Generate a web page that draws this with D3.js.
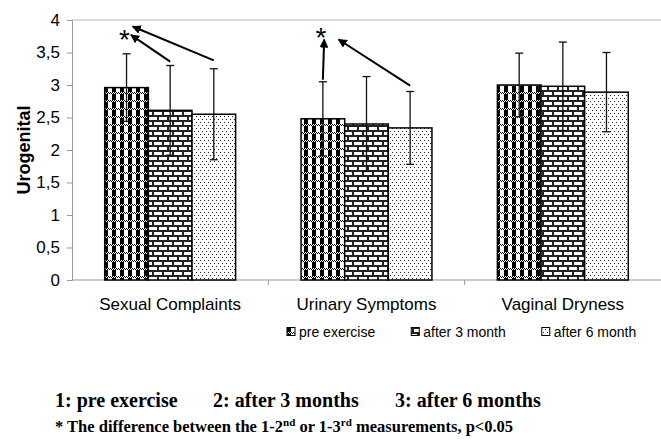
<!DOCTYPE html>
<html>
<head>
<meta charset="utf-8">
<script src="https://cdn.jsdelivr.net/npm/d3@7"></script>
<style>
  body { margin: 0; background: #fff; }
  svg { display: block; }
  text { font-family: Arial, "Liberation Sans", sans-serif; }
  .foot text { font-family: "Times New Roman", "Liberation Serif", serif; font-weight: bold; }
</style>
</head>
<body>
<div id="chart"></div>
<script>
// chart data
var categories = ["Sexual Complaints", "Urinary Symptoms", "Vaginal Dryness"];
var seriesNames = ["pre exercise", "after 3 month", "after 6 month"];
var preExercise = [2.96, 2.48, 3.00];
var after3Month = [2.61, 2.40, 2.98];
var after6Month = [2.55, 2.34, 2.89];
var preSd = [0.52, 0.57, 0.49];
var after3Sd = [0.69, 0.73, 0.68];
var after6Sd = [0.70, 0.56, 0.61];
var yTicks = [0, 0.5, 1, 1.5, 2, 2.5, 3, 3.5, 4];

// significance arrows (category index, from series/value, to series/value, shift in bar widths)
var arrows = [
  {cat: 0, fromSeries: 1, fromValue: 3.36, toSeries: 0, toValue: 3.77, shift: 0.1},
  {cat: 0, fromSeries: 2, fromValue: 3.38, toSeries: 0, toValue: 3.90, shift: 0.14},
  {cat: 1, fromSeries: 0, fromValue: 3.08, toSeries: 0, toValue: 3.70, shift: 0.03},
  {cat: 1, fromSeries: 2, fromValue: 2.99, toSeries: 0, toValue: 3.70, shift: 0.36}
];
var stars = [
  {cat: 0, series: 0, value: 3.82},
  {cat: 1, series: 0, value: 3.84}
];

var footLine1 = ["1: pre exercise", "2: after 3 months", "3: after 6 months"];

/*
 SETUP
*/
var W = 661, H = 442;
var margin = {top: 20, left: 72},
    plotW = 661 - margin.left,
    plotH = 260;

var svg = d3.select('#chart').append('svg')
    .attr('width', W)
    .attr('height', H);
svg.append('rect').attr('width', W).attr('height', H).attr('fill', '#fff');

var defs = svg.append('defs');

// pattern 1: black blocks with grey dither bands
var p1 = defs.append('pattern').attr('id', 'pat0')
    .attr('patternUnits', 'userSpaceOnUse')
    .attr('width', 8).attr('height', 8)
    .attr('shape-rendering', 'crispEdges');
p1.append('rect').attr('width', 8).attr('height', 8).attr('fill', '#fff');
p1.append('rect').attr('x', 0).attr('y', 2).attr('width', 4).attr('height', 6).attr('fill', '#000');
d3.range(8).forEach(function(i) {
  p1.append('rect').attr('x', i).attr('y', i % 2).attr('width', 1).attr('height', 1).attr('fill', '#000');
});

// pattern 2: horizontal bricks
var p2 = defs.append('pattern').attr('id', 'pat1')
    .attr('patternUnits', 'userSpaceOnUse')
    .attr('width', 10).attr('height', 10)
    .attr('shape-rendering', 'crispEdges');
p2.append('rect').attr('width', 10).attr('height', 10).attr('fill', '#fff');
p2.append('rect').attr('x', 0).attr('y', 0).attr('width', 10).attr('height', 1.5).attr('fill', '#222');
p2.append('rect').attr('x', 0).attr('y', 5).attr('width', 10).attr('height', 1.5).attr('fill', '#222');
p2.append('rect').attr('x', 0).attr('y', 0).attr('width', 1.5).attr('height', 5).attr('fill', '#222');
p2.append('rect').attr('x', 5).attr('y', 5).attr('width', 1.5).attr('height', 5).attr('fill', '#222');

// pattern 3: sparse dots
var p3 = defs.append('pattern').attr('id', 'pat2')
    .attr('patternUnits', 'userSpaceOnUse')
    .attr('width', 4).attr('height', 6)
    .attr('shape-rendering', 'crispEdges');
p3.append('rect').attr('width', 4).attr('height', 6).attr('fill', '#fff');
p3.append('rect').attr('x', 0).attr('y', 0).attr('width', 1).attr('height', 1).attr('fill', '#222');
p3.append('rect').attr('x', 2).attr('y', 3).attr('width', 1).attr('height', 1).attr('fill', '#222');

// arrow head
defs.append('marker').attr('id', 'head')
    .attr('viewBox', '0 0 10 10')
    .attr('refX', 9).attr('refY', 5)
    .attr('markerWidth', 4.5).attr('markerHeight', 4.5)
    .attr('markerUnits', 'strokeWidth')
    .attr('orient', 'auto')
  .append('path').attr('d', 'M0,0L10,5L0,10z').attr('fill', '#000');

var g = svg.append('g').attr('transform', 'translate(' + margin.left + ',' + margin.top + ')');

// scales
var x = d3.scaleBand().domain(categories).range([0, plotW]);
var groupW = x.bandwidth() * 3 / 4.5;
var xs = d3.scaleBand().domain(d3.range(3)).range([0, groupW]);
var groupOff = (x.bandwidth() - groupW) / 2;
var y = d3.scaleLinear().domain([0, 4]).range([plotH, 0]);

function barX(cat, s) { return x(categories[cat]) + groupOff + xs(s); }
function barMid(cat, s) { return barX(cat, s) + xs.bandwidth() / 2; }

var values = [preExercise, after3Month, after6Month];
var sds = [preSd, after3Sd, after6Sd];
var data = [];
categories.forEach(function(c, i) {
  values.forEach(function(v, s) {
    data.push({cat: i, series: s, value: v[i], sd: sds[s][i]});
  });
});

// top line and axes
g.append('line').attr('x1', 0).attr('x2', plotW).attr('y1', y(4)).attr('y2', y(4))
    .attr('stroke', '#b4b4b4').attr('stroke-width', 1);

var yAxis = g.append('g').call(d3.axisLeft(y).tickValues(yTicks).tickSize(5).tickPadding(7)
    .tickFormat(function(d) { return String(d).replace('.', ','); }));
yAxis.select('.domain').attr('stroke', '#999');
yAxis.selectAll('.tick line').attr('stroke', '#999');
yAxis.selectAll('.tick text').attr('font-size', 17).attr('fill', '#000')
    .style('font-family', 'Arial, "Liberation Sans", sans-serif');

g.append('line').attr('x1', 0).attr('x2', plotW).attr('y1', plotH).attr('y2', plotH)
    .attr('stroke', '#999');
g.selectAll('.cattick').data(categories.slice(1)).enter().append('line')
    .attr('x1', function(d) { return x(d); }).attr('x2', function(d) { return x(d); })
    .attr('y1', plotH).attr('y2', plotH + 5).attr('stroke', '#999');

g.selectAll('.catlabel').data(categories).enter().append('text')
    .attr('x', function(d) { return x(d) + x.bandwidth() / 2; })
    .attr('y', plotH + 30)
    .attr('text-anchor', 'middle')
    .attr('font-size', 17)
    .text(function(d) { return d; });

// y label
svg.append('text')
    .attr('transform', 'translate(30,' + (margin.top + plotH / 2) + ') rotate(-90)')
    .attr('text-anchor', 'middle')
    .attr('font-size', 18).attr('font-weight', 'bold')
    .text('Urogenital');

// bars
g.selectAll('.bar').data(data).enter().append('rect')
    .attr('x', function(d) { return barX(d.cat, d.series); })
    .attr('y', function(d) { return y(d.value); })
    .attr('width', xs.bandwidth())
    .attr('height', function(d) { return plotH - y(d.value); })
    .attr('fill', function(d) { return 'url(#pat' + d.series + ')'; })
    .attr('stroke', '#000').attr('stroke-width', 1.5);

// error bars
var eb = g.selectAll('.err').data(data).enter().append('g').attr('stroke', '#111').attr('stroke-width', 1.3);
eb.append('line')
    .attr('x1', function(d) { return barMid(d.cat, d.series); })
    .attr('x2', function(d) { return barMid(d.cat, d.series); })
    .attr('y1', function(d) { return y(d.value + d.sd); })
    .attr('y2', function(d) { return y(d.value - d.sd); });
[1, -1].forEach(function(sign) {
  eb.append('line')
      .attr('x1', function(d) { return barMid(d.cat, d.series) - 4; })
      .attr('x2', function(d) { return barMid(d.cat, d.series) + 4; })
      .attr('y1', function(d) { return y(d.value + sign * d.sd); })
      .attr('y2', function(d) { return y(d.value + sign * d.sd); });
});

// arrows and stars
g.selectAll('.arrow').data(arrows).enter().append('line')
    .attr('x1', function(d) { return barMid(d.cat, d.fromSeries); })
    .attr('y1', function(d) { return y(d.fromValue); })
    .attr('x2', function(d) { return barMid(d.cat, d.toSeries) + d.shift * xs.bandwidth(); })
    .attr('y2', function(d) { return y(d.toValue); })
    .attr('stroke', '#000').attr('stroke-width', 2)
    .attr('marker-end', 'url(#head)');

g.selectAll('.star').data(stars).enter().append('text')
    .attr('x', function(d) { return barMid(d.cat, d.series) - 2; })
    .attr('y', function(d) { return y(d.value); })
    .attr('dy', '0.6em')
    .attr('text-anchor', 'middle')
    .attr('font-size', 28)
    .text('*');

// legend
var legend = svg.append('g').attr('transform', 'translate(287,332)');
var lx = 0;
seriesNames.forEach(function(name, i) {
  legend.append('rect').attr('x', lx).attr('y', -4.5).attr('width', 8).attr('height', 8)
      .attr('fill', 'url(#pat' + i + ')').attr('stroke', '#000').attr('stroke-width', 1);
  var t = legend.append('text').attr('x', lx + 12).attr('y', 5)
      .attr('font-size', 14).text(name);
  lx += 12 + t.node().getComputedTextLength() + 36;
});

// footnotes
var foot = svg.append('g').attr('class', 'foot');
var footX = [55, 213, 395];
footLine1.forEach(function(s, i) {
  foot.append('text').attr('x', footX[i]).attr('y', 407)
      .attr('font-size', 20).text(s);
});
var l2 = foot.append('text').attr('x', 55).attr('y', 432)
    .attr('font-size', 16.5);
l2.append('tspan').text('* The difference between the 1-2');
l2.append('tspan').attr('font-size', 11).attr('dy', -6).text('nd');
l2.append('tspan').attr('dy', 6).text(' or 1-3');
l2.append('tspan').attr('font-size', 11).attr('dy', -6).text('rd');
l2.append('tspan').attr('dy', 6).text(' measurements, p<0.05');
</script>
</body>
</html>
